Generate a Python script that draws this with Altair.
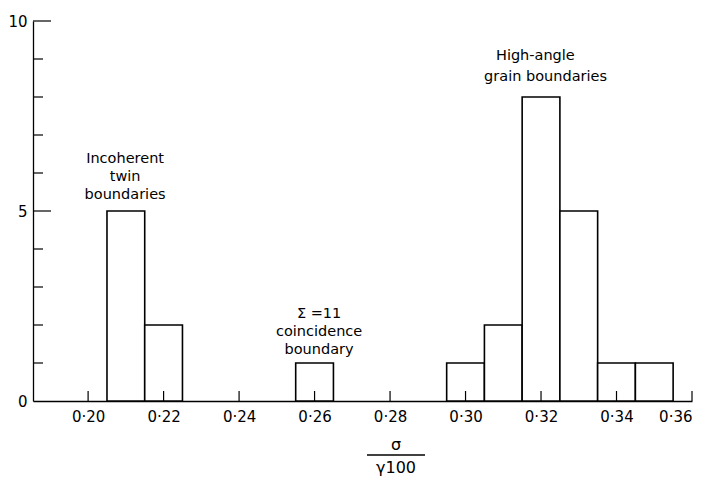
import altair as alt
import pandas as pd

# Histogram data
bin_start = [0.205, 0.215, 0.255, 0.295, 0.305, 0.315, 0.325, 0.335, 0.345]
bin_end = [0.215, 0.225, 0.265, 0.305, 0.315, 0.325, 0.335, 0.345, 0.355]
counts = [5, 2, 1, 1, 2, 8, 5, 1, 1]

x_ticks = [0.20, 0.22, 0.24, 0.26, 0.28, 0.30, 0.32, 0.34, 0.36]
y_minor_ticks = [1, 2, 3, 4, 6, 7, 8, 9]
y_major_ticks = [5, 10]
y_labels = [0, 5, 10]

ann_text = ["Incoherent", "twin", "boundaries",
            "Σ =11", "coincidence", "boundary",
            "High-angle", "grain boundaries"]
ann_x = [0.2098, 0.2098, 0.2098, 0.2612, 0.2612, 0.2612, 0.3185, 0.3212]
ann_y = [6.36, 5.89, 5.42, 2.28, 1.82, 1.35, 9.07, 8.53]

FONT = "DejaVu Sans"
W, H = 659, 380

bars = pd.DataFrame({"start": bin_start, "end": bin_end, "count": counts, "zero": 0})
xt = pd.DataFrame({"v": x_ticks})
ymin = pd.DataFrame({"v": y_minor_ticks})
ymaj = pd.DataFrame({"v": y_major_ticks})
ann = pd.DataFrame({"t": ann_text, "x": ann_x, "y": ann_y})

xscale = alt.Scale(domain=[0.1854, 0.36], nice=False, zero=False)
yscale = alt.Scale(domain=[0, 10], nice=False)

bar_layer = alt.Chart(bars).mark_rect(fill="white", stroke="black", strokeWidth=1.6).encode(
    x=alt.X("start:Q", scale=xscale,
            axis=alt.Axis(values=x_ticks, ticks=False, domain=True, domainColor="black",
                          domainWidth=1.3, grid=False, title=None,
                          labelExpr="replace(format(datum.value, '.2f'), '.', '·')",
                          labelFont=FONT, labelFontSize=15, labelColor="black",
                          labelPadding=8)),
    x2="end:Q",
    y=alt.Y("count:Q", scale=yscale,
            axis=alt.Axis(values=y_labels, ticks=False, domain=True, domainColor="black",
                          domainWidth=1.3, grid=False, title=None,
                          labelFont=FONT, labelFontSize=15, labelColor="black",
                          labelPadding=6)),
    y2="zero:Q",
)

xtick_layer = alt.Chart(xt).mark_rule(color="black", strokeWidth=1.2).encode(
    x=alt.X("v:Q", scale=xscale), y=alt.value(H), y2=alt.value(H - 10)
)
ymin_layer = alt.Chart(ymin).mark_rule(color="black", strokeWidth=1.2).encode(
    y=alt.Y("v:Q", scale=yscale), x=alt.value(0), x2=alt.value(10)
)
ymaj_layer = alt.Chart(ymaj).mark_rule(color="black", strokeWidth=1.2).encode(
    y=alt.Y("v:Q", scale=yscale), x=alt.value(0), x2=alt.value(18)
)

ann_layer = alt.Chart(ann).mark_text(font=FONT, fontSize=14.5, color="black",
                                     align="center", baseline="middle").encode(
    x=alt.X("x:Q", scale=xscale), y=alt.Y("y:Q", scale=yscale), text="t:N"
)

# axis title as a fraction: sigma over gamma100
title_df = pd.DataFrame({"t": ["σ", "γ100"], "py": [H + 44, H + 67]})
title_layer = alt.Chart(title_df).mark_text(font=FONT, fontSize=16, color="black",
                                            align="center", baseline="middle").encode(
    x=alt.value(363), y=alt.Y("py:Q", scale=None), text="t:N"
)
frac_bar = alt.Chart(pd.DataFrame({"a": [0]})).mark_rule(color="black", strokeWidth=1.3).encode(
    x=alt.value(334), x2=alt.value(392), y=alt.value(H + 54)
)

chart = alt.layer(bar_layer, xtick_layer, ymin_layer, ymaj_layer, ann_layer,
                  title_layer, frac_bar).properties(
    width=W, height=H,
    autosize=alt.AutoSizeParams(type="none"),
    padding={"left": 25, "top": 13, "right": 11, "bottom": 78},
).configure_view(stroke=None).configure_axis(grid=False)

chart.save("out.html", embed_options={"renderer": "svg", "actions": False})
